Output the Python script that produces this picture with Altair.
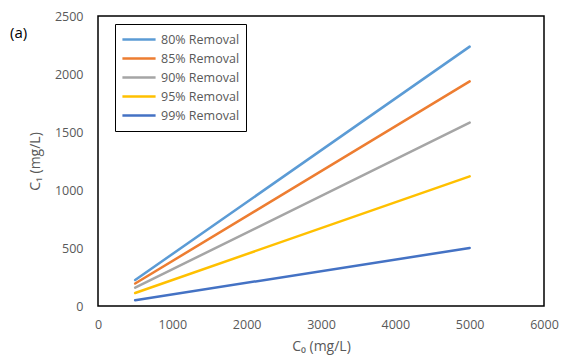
import altair as alt
import pandas as pd

series = ["80% Removal", "85% Removal", "90% Removal", "95% Removal", "99% Removal"]
colors = ["#5B9BD5", "#ED7D31", "#A5A5A5", "#FFC000", "#4472C4"]
c0 = [500, 5000]
c1_80 = [224, 2236]
c1_85 = [194, 1936]
c1_90 = [158, 1581]
c1_95 = [112, 1118]
c1_99 = [50, 500]
x_ticks = [0, 1000, 2000, 3000, 4000, 5000, 6000]
y_ticks = [0, 500, 1000, 1500, 2000, 2500]

rows = []
for name, vals in zip(series, [c1_80, c1_85, c1_90, c1_95, c1_99]):
    for x, y in zip(c0, vals):
        rows.append({"C0": x, "C1": y, "Series": name})
df = pd.DataFrame(rows)

font = "Open Sans"
grey = "#595959"

lines = alt.Chart(df).mark_line(strokeWidth=2.5, strokeCap="round").encode(
    x=alt.X("C0:Q", scale=alt.Scale(domain=[0, 6000], nice=False),
            axis=alt.Axis(title="C₀ (mg/L)", values=x_ticks, format="d", labelFlush=False,
                          labelPadding=12, titlePadding=9)),
    y=alt.Y("C1:Q", scale=alt.Scale(domain=[0, 2500], nice=False),
            axis=alt.Axis(title="C₁ (mg/L)", values=y_ticks, format="d", labelFlush=False,
                          labelPadding=15, titlePadding=12)),
    color=alt.Color("Series:N", scale=alt.Scale(domain=series, range=colors),
                    legend=alt.Legend(title=None, orient="none", legendX=17, legendY=8,
                                      symbolType="stroke", symbolSize=1100, symbolStrokeWidth=2.5,
                                      strokeColor="black", padding=6, rowPadding=0,
                                      clipHeight=19, labelFontSize=12.5, labelColor=grey,
                                      labelFont=font, labelOffset=4)),
)

label = alt.Chart(pd.DataFrame({"t": ["(a)"]})).mark_text(
    font=font, fontSize=15, color="black", align="left", baseline="middle"
).encode(text="t:N", x=alt.value(-88), y=alt.value(17))

chart = (lines + label).properties(
    width=446, height=290, autosize="none",
    padding={"left": 90, "top": 8, "right": 15, "bottom": 49},
).configure_view(stroke="black", strokeWidth=1.5).configure_axis(
    grid=False, domain=False, ticks=False, labelFont=font, labelFontSize=12.5,
    labelColor=grey, titleFont=font, titleFontSize=14, titleColor=grey,
    titleFontWeight="normal",
)

chart.save("out.html", embed_options={"renderer": "svg", "actions": False})
